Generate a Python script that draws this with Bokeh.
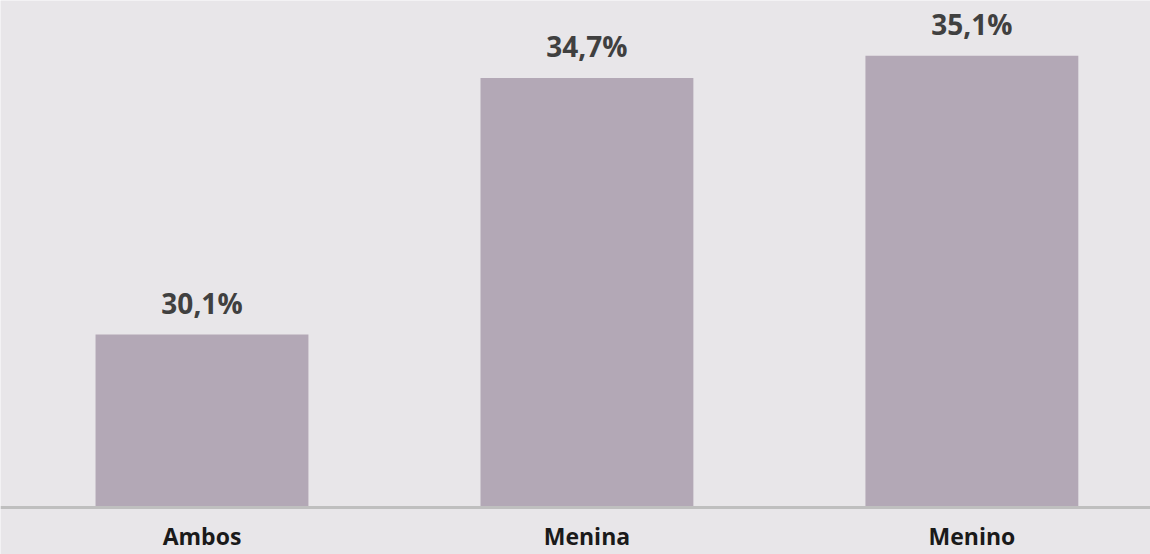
from bokeh.plotting import figure
from bokeh.models import Span, Range1d, ColumnDataSource
from bokeh.core.properties import value
from bokeh.embed import file_html
from bokeh.resources import INLINE

categories = ["Ambos", "Menina", "Menino"]
values = [30.1, 34.7, 35.1]
value_labels = ["30,1%", "34,7%", "35,1%"]
axis_min = 27.0

BG = "#e8e6e9"
BAR = "#b3a8b6"

xs = [i + 0.5 for i in range(len(categories))]
src = ColumnDataSource(dict(x=xs, top=values, cat=categories, lab=value_labels,
                            base=[axis_min] * len(categories)))

p = figure(width=1150, height=554, output_backend="svg", toolbar_location=None,
           x_range=Range1d(-0.0234, 2.964), y_range=Range1d(26.158, 36.09),
           min_border_left=0, min_border_right=0, min_border_top=0, min_border_bottom=0)
p.background_fill_color = BG
p.border_fill_color = BG
p.outline_line_color = None
p.xaxis.visible = False
p.yaxis.visible = False
p.xgrid.visible = False
p.ygrid.visible = False

p.vbar(x="x", top="top", bottom="base", width=0.553, source=src,
       fill_color=BAR, line_color=None)

p.add_layout(Span(location=axis_min, dimension="width", line_color="#bfbfbf", line_width=3))

p.text(x="x", y="top", text="lab", source=src, text_align="center",
       text_baseline="alphabetic", y_offset=-32, text_font=value("Open Sans"),
       text_font_size="28px", text_font_style="bold", text_color="#404040")

p.text(x="x", y="base", text="cat", source=src, text_align="center",
       text_baseline="alphabetic", y_offset=28, text_font=value("Open Sans"),
       text_font_size="23px", text_font_style="bold", text_color="#1a1a1a")

open("out.html", "w").write(file_html(p, INLINE))
